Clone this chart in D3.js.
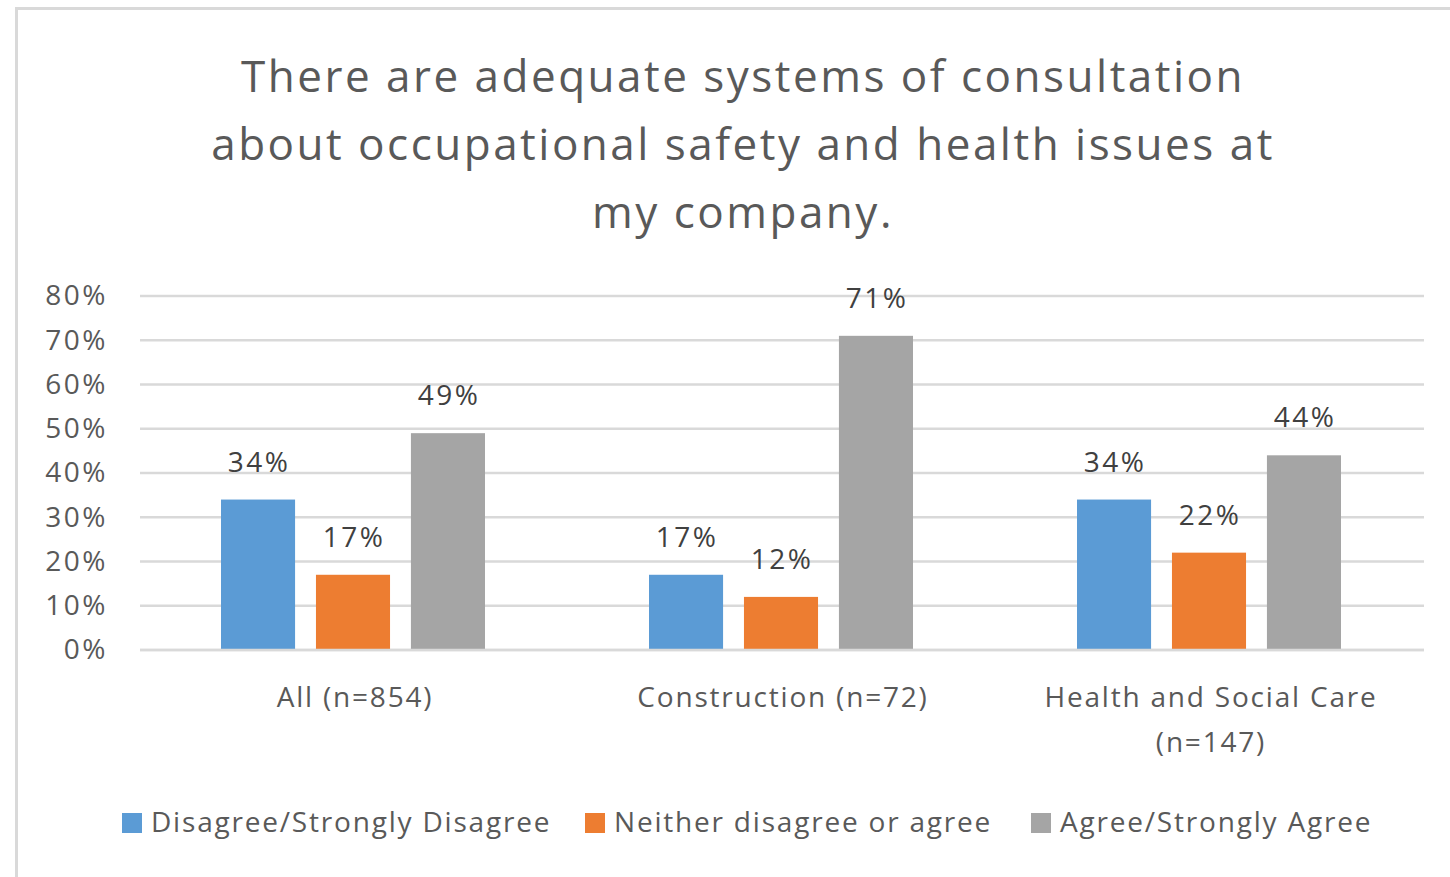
<!DOCTYPE html>
<html>
<head>
<meta charset="utf-8">
<script src="https://cdn.jsdelivr.net/npm/d3@7"></script>
<style>
  body { margin: 0; background: #fff; }
  text { font-family: "Open Sans", sans-serif; }
</style>
</head>
<body>
<script>
var width = 1450,
    height = 877;

var categories = [["All (n=854)"], ["Construction (n=72)"], ["Health and Social Care", "(n=147)"]];
var seriesNames = ["Disagree/Strongly Disagree", "Neither disagree or agree", "Agree/Strongly Agree"];
var seriesColors = ["#5b9bd5", "#ed7d31", "#a5a5a5"];
var disagree = [34, 17, 34];
var neither = [17, 12, 22];
var agree = [49, 71, 44];
var yTicks = [0, 10, 20, 30, 40, 50, 60, 70, 80];
var titleLines = ["There are adequate systems of consultation",
                  "about occupational safety and health issues at",
                  "my company."];

var values = [disagree, neither, agree];

var svg = d3.select('body')
  .append('svg')
  .attr('width', width)
  .attr('height', height);

// chart frame
svg.append('rect')
  .attr('x', 16.5).attr('y', 8.5)
  .attr('width', 1500).attr('height', 1000)
  .attr('fill', '#fff')
  .attr('stroke', '#d9d9d9')
  .attr('stroke-width', 3);

svg.append('g').selectAll('text')
  .data(titleLines)
  .enter()
  .append('text')
  .attr('x', 743)
  .attr('y', function(d, i) { return 92 + i * 68; })
  .attr('text-anchor', 'middle')
  .attr('font-size', 44)
  .attr('letter-spacing', 2.5)
  .attr('fill', '#595959')
  .text(function(d) { return d; });

var x = d3.scaleBand()
  .domain(d3.range(categories.length))
  .range([140, 1424]);

var x1 = d3.scaleBand()
  .domain(d3.range(seriesNames.length))
  .range([81, x.bandwidth() - 83])
  .paddingInner(0.22);

var y = d3.scaleLinear()
  .domain([0, 80])
  .range([650, 296]);

// gridlines
svg.append('g').selectAll('line')
  .data(yTicks)
  .enter()
  .append('line')
  .attr('x1', 140).attr('x2', 1424)
  .attr('y1', function(d) { return y(d); })
  .attr('y2', function(d) { return y(d); })
  .attr('stroke', '#d9d9d9')
  .attr('stroke-width', 2.5);

var yAxis = svg.append('g')
  .attr('transform', 'translate(108,0)')
  .call(d3.axisLeft(y).tickValues(yTicks).tickSize(0).tickPadding(0)
    .tickFormat(function(d) { return d + '%'; }));
yAxis.select('.domain').remove();
yAxis.selectAll('text')
  .attr('font-size', 28)
  .attr('letter-spacing', 2.5)
  .attr('font-family', '"Open Sans", sans-serif')
  .attr('fill', '#595959');

var groups = svg.append('g').selectAll('g')
  .data(categories)
  .enter()
  .append('g')
  .attr('transform', function(d, i) { return 'translate(' + x(i) + ',0)'; });

groups.selectAll('rect')
  .data(function(d, i) { return values.map(function(s) { return s[i]; }); })
  .enter()
  .append('rect')
  .attr('x', function(d, j) { return x1(j); })
  .attr('y', function(d) { return y(d); })
  .attr('width', x1.bandwidth())
  .attr('height', function(d) { return y(0) - y(d); })
  .attr('fill', function(d, j) { return seriesColors[j]; });

groups.selectAll('.lbl')
  .data(function(d, i) { return values.map(function(s) { return s[i]; }); })
  .enter()
  .append('text')
  .attr('class', 'lbl')
  .attr('x', function(d, j) { return x1(j) + x1.bandwidth() / 2 + 1; })
  .attr('y', function(d) { return y(d) - 28; })
  .attr('text-anchor', 'middle')
  .attr('font-size', 28)
  .attr('letter-spacing', 2.5)
  .attr('fill', '#404040')
  .text(function(d) { return d + '%'; });

// redraw baseline on top
svg.append('line')
  .attr('x1', 140).attr('x2', 1424)
  .attr('y1', y(0)).attr('y2', y(0))
  .attr('stroke', '#d9d9d9')
  .attr('stroke-width', 2.5);

groups.selectAll('.cat')
  .data(function(d) { return d; })
  .enter()
  .append('text')
  .attr('class', 'cat')
  .attr('x', x.bandwidth() / 2 + 1)
  .attr('y', function(d, k) { return 707 + k * 45; })
  .attr('text-anchor', 'middle')
  .attr('font-size', 28)
  .attr('letter-spacing', 1.8)
  .attr('fill', '#595959')
  .text(function(d) { return d; });

// legend
var legendX = [122, 585, 1031];
var legend = svg.append('g').selectAll('g')
  .data(seriesNames)
  .enter()
  .append('g')
  .attr('transform', function(d, i) { return 'translate(' + legendX[i] + ',813)'; });

legend.append('rect')
  .attr('width', 20).attr('height', 20)
  .attr('fill', function(d, i) { return seriesColors[i]; });

legend.append('text')
  .attr('x', 29)
  .attr('y', 19)
  .attr('font-size', 28)
  .attr('letter-spacing', 1.8)
  .attr('fill', '#595959')
  .text(function(d) { return d; });
</script>
</body>
</html>
